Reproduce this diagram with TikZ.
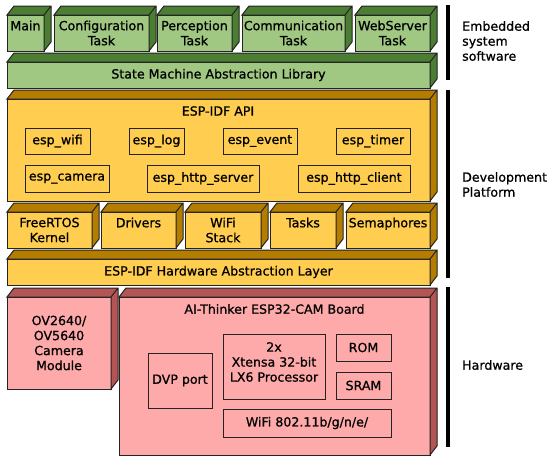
\documentclass[tikz,border=0pt]{standalone}
\usepackage{fontspec}
\setmainfont{DejaVu Sans}[FakeBold=0.8]
\definecolor{gfront}{RGB}{160,200,130}
\definecolor{gdark}{RGB}{75,125,50}
\definecolor{yfront}{RGB}{255,205,80}
\definecolor{ydark}{RGB}{180,125,0}
\definecolor{pfront}{RGB}{255,170,170}
\definecolor{pdark}{RGB}{180,85,85}
\definecolor{edgec}{RGB}{35,35,35}
\tikzset{
  edge/.style={draw=edgec, line width=1pt, line join=miter},
  front/.style={edge, inner sep=0pt, outer sep=0pt, align=center, font=\fontsize{12.6}{15}\selectfont},
  inbox/.style={edge, inner sep=0pt, outer sep=0pt, align=center, font=\fontsize{12.6}{15}\selectfont},
  lbl/.style={inner sep=0pt, align=left, anchor=west, font=\fontsize{12.6}{15}\selectfont},
  ttl/.style={inner sep=0pt, align=center, font=\fontsize{12.6}{15}\selectfont},
  bar/.style={line width=4pt, draw=black},
}
\newcommand\dx{7}
\newcommand\dy{9}
% name x1 y1 x2 y2 front dark text
\newcommand\blk[8]{%
  \pgfmathsetmacro\bw{#4-#2}\pgfmathsetmacro\bh{#5-#3}%
  \pgfmathsetmacro\bx{(#2+#4)/2}\pgfmathsetmacro\by{(#3+#5)/2}%
  \node[front, fill=#6, minimum width=\bw pt, minimum height=\bh pt] (#1) at (\bx,\by) {#8};
  \filldraw[edge, fill=#7] (#1.north west) -- ++(\dx,-\dy) -- ([shift={(\dx,-\dy)}]#1.north east)
     -- ([shift={(\dx,-\dy)}]#1.south east) -- (#1.south east) -- (#1.north east) -- cycle
     (#1.north east) -- ++(\dx,-\dy);
}
\newcommand\ibox[6]{%
  \pgfmathsetmacro\bw{#4-#2}\pgfmathsetmacro\bh{#5-#3}%
  \pgfmathsetmacro\bx{(#2+#4)/2}\pgfmathsetmacro\by{(#3+#5)/2}%
  \node[inbox, minimum width=\bw pt, minimum height=\bh pt] (#1) at (\bx,\by) {#6};
}
\begin{document}
\begin{tikzpicture}[x=1pt,y=-1pt]
\useasboundingbox[fill=white] (0,0) rectangle (550,461);
% green layer
\blk{main}{7}{15}{44}{51}{gfront}{gdark}{Main\\\mbox{}}
\blk{config}{54}{15}{149}{51}{gfront}{gdark}{Configuration\\Task}
\blk{percep}{157}{15}{232}{51}{gfront}{gdark}{Perception\\Task}
\blk{comm}{242}{15}{345}{51}{gfront}{gdark}{Communication\\Task}
\blk{web}{355}{15}{430}{51}{gfront}{gdark}{WebServer\\Task}
\blk{sm}{7}{62}{430}{88}{gfront}{gdark}{State Machine Abstraction Library}
% yellow layer
\blk{api}{7}{99}{430}{201}{yfront}{ydark}{}
\node[ttl] (apit) at (218,111) {ESP-IDF API};
\ibox{wifi}{25}{128}{90}{154}{esp\_wifi}
\ibox{log}{129}{128}{184}{154}{esp\_log}
\ibox{event}{223}{128}{297}{154}{esp\_event}
\ibox{timer}{336}{128}{410}{154}{esp\_timer}
\ibox{camera}{25}{165}{109}{192}{esp\_camera}
\ibox{hserver}{147}{165}{259}{192}{esp\_http\_server}
\ibox{hclient}{298}{165}{410}{192}{esp\_http\_client}
\blk{rtos}{7}{212}{92}{248}{yfront}{ydark}{FreeRTOS\\Kernel}
\blk{drivers}{101}{212}{176}{248}{yfront}{ydark}{Drivers\\\mbox{}}
\blk{wstack}{185}{212}{261}{248}{yfront}{ydark}{WiFi\\Stack}
\blk{tasks}{270}{212}{336}{248}{yfront}{ydark}{Tasks\\\mbox{}}
\blk{sema}{346}{212}{430}{248}{yfront}{ydark}{Semaphores\\\mbox{}}
\blk{hal}{7}{259}{430}{285}{yfront}{ydark}{ESP-IDF Hardware Abstraction Layer}
% pink layer
\blk{cam}{7}{297}{111}{389}{pfront}{pdark}{OV2640/\\OV5640\\Camera\\Module}
\blk{board}{119}{297}{430}{455}{pfront}{pdark}{}
\node[ttl] (boardt) at (274.5,309) {AI-Thinker ESP32-CAM Board};
\ibox{dvp}{148}{353}{212}{408}{DVP port}
\ibox{proc}{223}{334}{325}{399}{}
\node[ttl] (proct) at (274,362) {2x\\Xtensa 32-bit\\LX6 Processor};
\ibox{rom}{336}{334}{391}{361}{ROM}
\ibox{sram}{336}{372}{391}{399}{SRAM}
\ibox{wifimod}{223}{409}{391}{437}{WiFi 802.11b/g/n/e/}
% side bars
\coordinate (b1t) at (448,5);   \coordinate (b1b) at (448,80);
\coordinate (b2t) at (448,90);  \coordinate (b2b) at (448,278);
\coordinate (b3t) at (448,287); \coordinate (b3b) at (448,447);
\draw[bar] (b1t) -- (b1b);
\draw[bar] (b2t) -- (b2b);
\draw[bar] (b3t) -- (b3b);
\node[lbl] (l1) at (462,41) {Embedded\\system\\software};
\node[lbl] (l2) at (462,184.5) {Development\\Platform};
\node[lbl] (l3) at (462,365) {Hardware};
\end{tikzpicture}
\end{document}
